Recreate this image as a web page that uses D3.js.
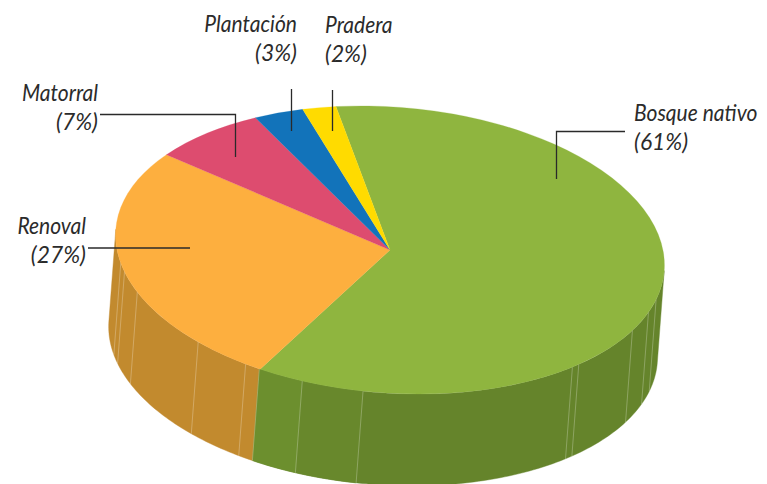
<!DOCTYPE html>
<html>
<head>
<meta charset="utf-8">
<script src="https://cdnjs.cloudflare.com/ajax/libs/d3/7.8.5/d3.min.js"></script>
<style>
html,body{margin:0;padding:0;background:#fff}
svg{display:block}
text{font-family:Lato,"Noto Sans",sans-serif;font-style:italic;font-size:23.5px;fill:#2b2b2b}
</style>
</head>
<body>
<svg id="c" width="767" height="484"></svg>
<script>
const categories = ["Bosque nativo","Renoval","Matorral","Plantación","Pradera"];
const shares = [61,27,7,3,2];
const labels = ["(61%)","(27%)","(7%)","(3%)","(2%)"];
const topColors = ["#8FB53F","#FDAF3F","#DD4C6F","#1273BA","#FFDB00"];
const wallColors = ["#65842B","#C28A2E","#A83A55","#0E5A92","#C7AA00"];
const seamDegrees = [101.9,107.4,115.7,134.3,136.1,183.4,196.4,206.2,209.5,222.1,244.8,253.1,256.6];
const lighterGreenBands = [[183.4,196.4,"#68882C"],[196.4,206.2,"#6C8F2E"]];

const W=767,H=484;
const cx=390,cy=250,rx=275,ry=143,depth=92,tilt=4.3,startDeg=-13.6;
const rad=d=>d*Math.PI/180;
const svg=d3.select("#c");
const g=svg.append("g").attr("transform",`translate(${cx},${cy}) rotate(${tilt})`);

const pie=d3.pie().sort(null).value(d=>d).startAngle(rad(startDeg)).endAngle(rad(startDeg+360));
const arcs=pie(shares);
const px=t=>rx*Math.sin(t), py=t=>-ry*Math.cos(t);

function wall(t0,t1,color){
  const n=Math.max(2,Math.ceil((t1-t0)/rad(1)));
  const ts=d3.range(n+1).map(i=>t0+(t1-t0)*i/n);
  const pts=ts.map(t=>[px(t),py(t)]).concat(ts.slice().reverse().map(t=>[px(t),py(t)+depth]));
  g.append("path").attr("d",d3.line()(pts)+"Z").attr("fill",color).attr("stroke",color).attr("stroke-width",.4);
}
arcs.forEach((a,i)=>{
  const s=Math.max(a.startAngle,rad(90)), e=Math.min(a.endAngle,rad(270));
  if(e>s) wall(s,e,wallColors[i]);
});
lighterGreenBands.forEach(b=>wall(rad(b[0]),rad(b[1]),b[2]));
seamDegrees.forEach(d=>{
  const t=rad(d);
  g.append("line").attr("x1",px(t)).attr("y1",py(t)).attr("x2",px(t)).attr("y2",py(t)+depth)
   .attr("stroke","#fff").attr("stroke-opacity",.28).attr("stroke-width",.9);
});
const arc=d3.arc().innerRadius(0).outerRadius(rx);
const topFace=g.append("g").attr("transform",`scale(1,${ry/rx})`);
topFace.selectAll("path").data(arcs).join("path")
  .attr("d",arc).attr("fill",(d,i)=>topColors[i]).attr("stroke",(d,i)=>topColors[i]).attr("stroke-width",.3);

const leaders=[
  [[625,131.5],[556.5,131.5],[556.5,179]],
  [[88,248],[190,248]],
  [[100,114.5],[235.5,114.5],[235.5,157]],
  [[291.5,89],[291.5,131]],
  [[332.5,90],[332.5,131]]
];
svg.append("g").selectAll("path").data(leaders).join("path")
  .attr("d",d=>d3.line()(d)).attr("fill","none").attr("stroke","#2a2a2a").attr("stroke-width",1.3);

const labelPos=[
  {x:634,y1:121,y2:150,a:"start"},
  {x:86,y1:234,y2:263,a:"end"},
  {x:98,y1:101,y2:130,a:"end"},
  {x:297,y1:32,y2:61,a:"end"},
  {x:325,y1:33,y2:62,a:"start"}
];
const lab=svg.append("g");
function put(p,y,s,str){
  lab.append("text").attr("transform",`translate(${p.x},${y}) scale(${s},1)`).attr("text-anchor",p.a).text(str);
}
categories.forEach((c,i)=>{
  const p=labelPos[i];
  put(p,p.y1,.895,c);
  put(p,p.y2,.97,labels[i]);
});
</script>
</body>
</html>
